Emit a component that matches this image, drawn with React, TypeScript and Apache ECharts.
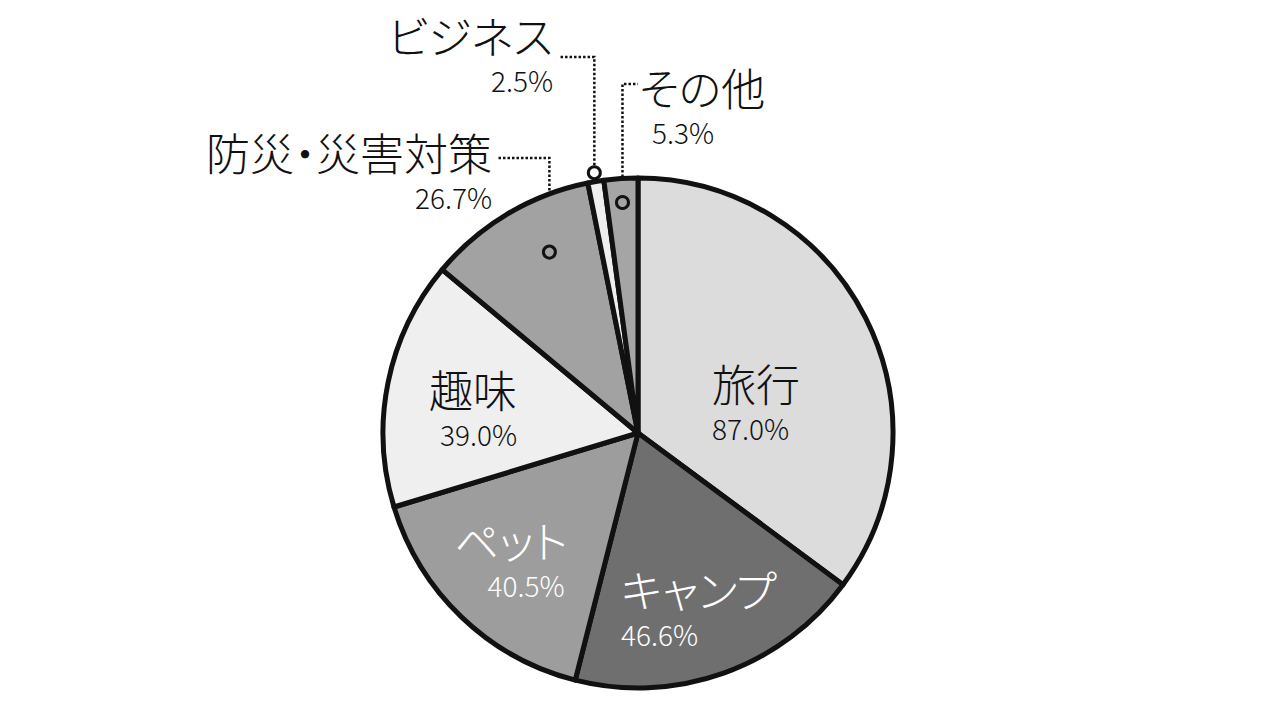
import { useEffect, useRef } from 'react'
import * as echarts from 'echarts'

// multiple-answer survey shares (%), clockwise from 12 o'clock
const categories = ['旅行', 'キャンプ', 'ペット', '趣味', '防災・災害対策', 'ビジネス', 'その他']
const percents = [87.0, 46.6, 40.5, 39.0, 26.7, 2.5, 5.3]
const sliceColors = ['#dcdcdc', '#6f6f6f', '#9d9d9d', '#efefef', '#a2a2a2', '#eeeeee', '#a5a5a5']

// slices labelled outside with a dotted leader + small ring
const calloutIdx = [4, 5, 6]
const calloutAlong = [0.62, 0.5, 0.5] // where the ring sits inside the slice (0..1 of its angle)
const calloutRadius = [0.79, 1.035, 0.906] // ring distance as ratio of pie radius
const leaderElbowY = [158, 57, 84]
const leaderEndX = [497, 560, 638]

const CX = 638
const CY = 433
const R = 255
const RMAX = 1.2
const RING = 12
const RING_W = 3
const FONT = '"Noto Sans CJK JP Light", "Noto Sans CJK JP", "Noto Sans", sans-serif'

type Spec = {
  x: number
  y: number
  align: 'left' | 'right' | 'center'
  color: string
  namePad?: number[]
  pctPad?: number[]
}

// label block anchors (top of the name line)
const labelSpec: Spec[] = [
  { x: 712, y: 358, align: 'left', color: '#111' },
  { x: 621, y: 564, align: 'left', color: '#fff' },
  { x: 518, y: 515, align: 'center', color: '#fff', namePad: [0, 14, 0, 0], pctPad: [0, 0, 0, 16] },
  { x: 517, y: 364, align: 'right', color: '#111' },
  { x: 492, y: 127, align: 'right', color: '#111' },
  { x: 553, y: 10, align: 'right', color: '#111' },
  { x: 639, y: 62, align: 'left', color: '#111', pctPad: [0, 0, 0, 13] },
]

const total = percents.reduce((a, b) => a + b, 0)
const cumStart = percents.map((_, i) => percents.slice(0, i).reduce((a, b) => a + b, 0))

function calloutValue(k: number) {
  const i = calloutIdx[k]
  return cumStart[i] + percents[i] * calloutAlong[k]
}

// same mapping as the polar system below (start at top, clockwise)
function toPixel(value: number, ratio: number) {
  const a = (value / total) * Math.PI * 2
  return [CX + R * ratio * Math.sin(a), CY - R * ratio * Math.cos(a)]
}

export default function App() {
  const ref = useRef<HTMLDivElement>(null)

  useEffect(() => {
    if (!ref.current) return
    const chart = echarts.init(ref.current, null, { renderer: 'svg' })

    const data = categories.map((name, i) => {
      const s = labelSpec[i]
      const isCallout = calloutIdx.includes(i)
      return {
        name,
        value: percents[i],
        itemStyle: { color: sliceColors[i] },
        label: {
          position: isCallout ? 'outside' : 'inside',
          formatter: `{n|${name}}\n{p|${percents[i].toFixed(1)}%}`,
          rich: {
            n: {
              fontFamily: FONT,
              fontWeight: 300,
              fontSize: 44,
              lineHeight: 50,
              color: s.color,
              align: s.align,
              padding: s.namePad || 0,
            },
            p: {
              fontFamily: FONT,
              fontWeight: 300,
              fontSize: 28,
              lineHeight: 40,
              color: s.color,
              align: s.align,
              padding: s.pctPad || 0,
            },
          },
        },
        labelLine: { show: isCallout },
      }
    })

    chart.setOption({
      animation: false,
      polar: { center: [CX, CY], radius: R * RMAX },
      angleAxis: {
        type: 'value',
        min: 0,
        max: total,
        startAngle: 90,
        clockwise: true,
        show: false,
      },
      radiusAxis: { type: 'value', min: 0, max: RMAX, show: false },
      series: [
        {
          type: 'pie',
          center: [CX, CY],
          radius: R,
          startAngle: 90,
          clockwise: true,
          avoidLabelOverlap: false,
          emphasis: { disabled: true },
          silent: true,
          itemStyle: { borderColor: '#111', borderWidth: 5, borderJoin: 'round' },
          label: { show: true, fontFamily: FONT },
          labelLine: {
            lineStyle: { color: '#111', width: 2.5, type: [2.5, 2] },
          },
          labelLayout: (p: any) => {
            const s = labelSpec[p.dataIndex]
            const out: any = { x: s.x, y: s.y, align: s.align, verticalAlign: 'top' }
            const k = calloutIdx.indexOf(p.dataIndex)
            if (k >= 0) {
              const [px, py] = toPixel(calloutValue(k), calloutRadius[k])
              const top = py - (RING + RING_W) / 2
              out.labelLinePoints = [
                [px, top],
                [px, leaderElbowY[k]],
                [leaderEndX[k], leaderElbowY[k]],
              ]
            }
            return out
          },
          data,
        },
        {
          type: 'scatter',
          coordinateSystem: 'polar',
          silent: true,
          z: 5,
          symbol: 'circle',
          symbolSize: RING,
          itemStyle: { color: 'rgba(0,0,0,0)', borderColor: '#111', borderWidth: RING_W, opacity: 1 },
          data: calloutIdx.map((_, k) => [calloutRadius[k], calloutValue(k)]),
        },
      ],
    })

    return () => {
      chart.dispose()
    }
  }, [])

  return (
    <>
      <style>{'#pie-chart text{font-feature-settings:"palt" 1;}'}</style>
      <div
        id="pie-chart"
        ref={ref}
        style={{ position: 'absolute', left: 0, top: 0, width: 1280, height: 720, background: '#fff' }}
      />
    </>
  )
}
